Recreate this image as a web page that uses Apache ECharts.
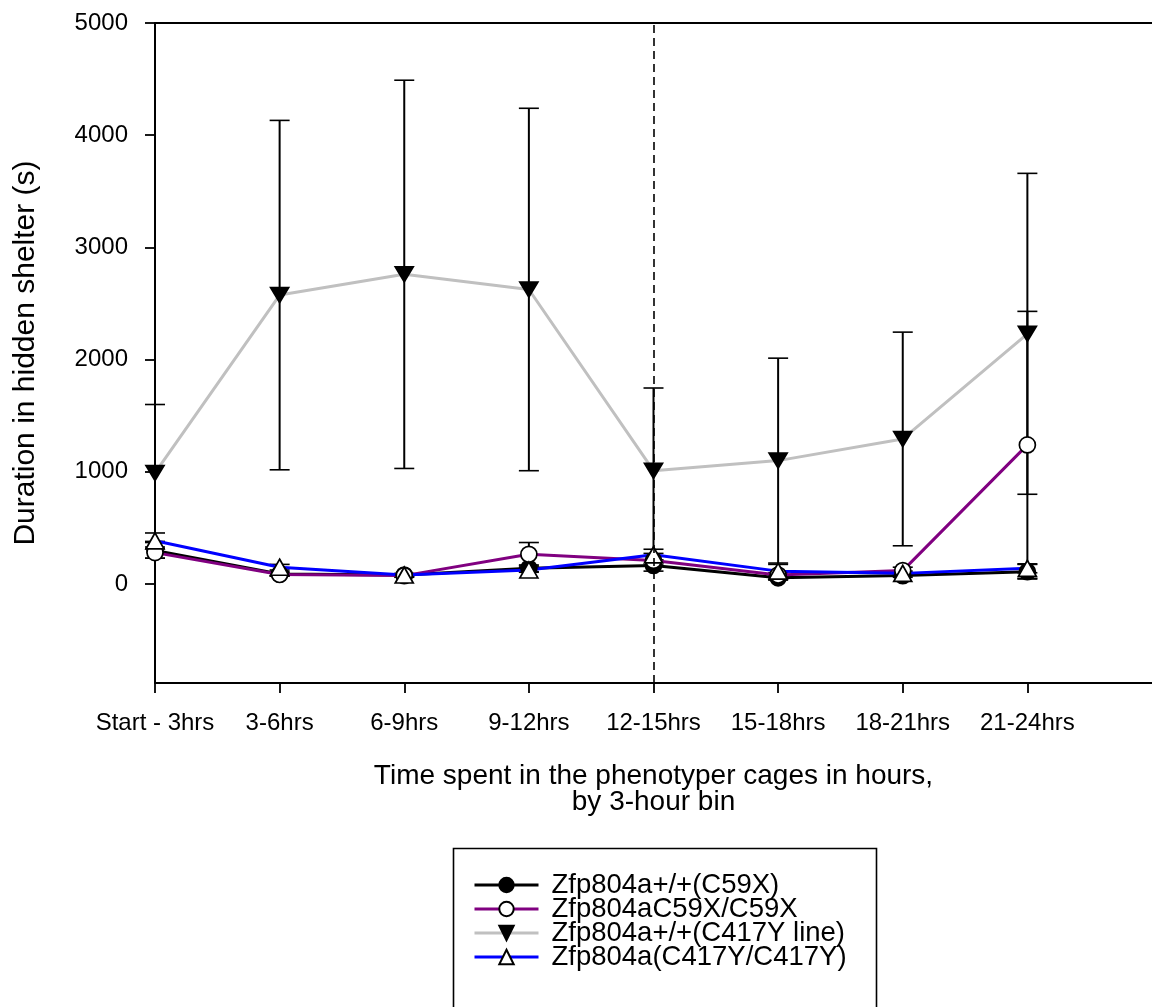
<!DOCTYPE html>
<html>
<head>
<meta charset="utf-8">
<title>Duration in hidden shelter</title>
<script src="https://cdn.jsdelivr.net/npm/echarts@6/dist/echarts.min.js"></script>
<style>
  html, body { margin: 0; padding: 0; background: #fff; }
  #chart { width: 1152px; height: 1007px; }
</style>
</head>
<body>
<div id="chart"></div>
<script>
// 3-hour bins
const categories = ['Start - 3hrs', '3-6hrs', '6-9hrs', '9-12hrs', '12-15hrs', '15-18hrs', '18-21hrs', '21-24hrs'];
const yTicks = [0, 1000, 2000, 3000, 4000, 5000];

const seriesNames = ['Zfp804a+/+(C59X)', 'Zfp804aC59X/C59X', 'Zfp804a+/+(C417Y line)', 'Zfp804a(C417Y/C417Y)'];

// mean duration (s) per bin
const wtC59X = [300, 90, 80, 140, 165, 55, 75, 110];
const homC59X = [280, 85, 75, 265, 210, 80, 120, 1240];
const wtC417Y = [990, 2575, 2760, 2625, 1010, 1100, 1293, 2230];
const homC417Y = [385, 150, 80, 125, 260, 115, 95, 140];

// SEM per bin
const wtC59XSem = [70, 20, 15, 30, 50, 20, 15, 65];
const homC59XSem = [50, 15, 15, 105, 40, 20, 30, 1190];
const wtC417YSem = [610, 1557, 1730, 1615, 737, 913, 952, 1430];
const homC417YSem = [70, 25, 10, 20, 50, 60, 20, 40];

const FONT = '"Liberation Sans", Arial, sans-serif';

function errData(means, sems) {
  return means.map((m, i) => [i, m - sems[i], m + sems[i]]);
}

function renderErr(params, api) {
  const x = api.value(0);
  const top = api.coord([x, api.value(2)]);
  const bot = api.coord([x, api.value(1)]);
  const hw = 10;
  const stem = { stroke: '#000', lineWidth: 2, fill: null };
  const cap = { stroke: '#000', lineWidth: 1.6, fill: null };
  return {
    type: 'group',
    children: [
      { type: 'line', shape: { x1: top[0], y1: top[1], x2: bot[0], y2: bot[1] }, style: stem },
      { type: 'line', shape: { x1: top[0] - hw, y1: top[1], x2: top[0] + hw, y2: top[1] }, style: cap },
      { type: 'line', shape: { x1: bot[0] - hw, y1: bot[1], x2: bot[0] + hw, y2: bot[1] }, style: cap }
    ]
  };
}

function errSeries(means, sems) {
  return {
    type: 'custom',
    renderItem: renderErr,
    data: errData(means, sems),
    encode: { x: 0, y: [1, 2] },
    silent: true,
    z: 2
  };
}

function lineSeries(name, values, color, symbol, size, fill) {
  return {
    name: name,
    type: 'line',
    data: values.map((v, i) => [i, v]),
    symbol: symbol,
    symbolSize: size,
    showAllSymbol: true,
    lineStyle: { color: color, width: 3 },
    itemStyle: { color: fill, borderColor: '#000', borderWidth: 1.7 },
    emphasis: { disabled: true },
    z: 3
  };
}

// downward-pointing filled triangle
const triDown = 'path://M0,0 L18,0 L9,15 Z';

const chart = echarts.init(document.getElementById('chart'), null, { renderer: 'canvas' });

const option = {
  animation: false,
  backgroundColor: '#fff',
  textStyle: { fontFamily: FONT },
  grid: { left: 155, right: 0, top: 23, bottom: 324, containLabel: false },
  xAxis: [
    {
      type: 'value',
      min: 0,
      max: 8,
      position: 'bottom',
      name: 'Time spent in the phenotyper cages in hours,\nby 3-hour bin',
      nameLocation: 'middle',
      nameGap: 80,
      nameTextStyle: { fontSize: 28, color: '#000', fontFamily: FONT, lineHeight: 26 },
      axisLine: { show: true, onZero: false, lineStyle: { color: '#000', width: 1.8 } },
      axisTick: { show: true, inside: false, length: 10, customValues: [0, 1, 2, 3, 4, 5, 6, 7], lineStyle: { color: '#000', width: 1.8 } },
      axisLabel: {
        show: true,
        margin: 28,
        fontSize: 24,
        color: '#000',
        fontFamily: FONT,
        customValues: [0, 1, 2, 3, 4, 5, 6, 7],
        formatter: v => categories[Math.round(v)] || ''
      },
      splitLine: { show: false }
    },
    {
      type: 'value',
      min: 0,
      max: 8,
      position: 'top',
      axisLine: { show: true, onZero: false, lineStyle: { color: '#000', width: 1.8 } },
      axisTick: { show: false },
      axisLabel: { show: false },
      splitLine: { show: false }
    }
  ],
  yAxis: {
    type: 'value',
    min: -882,
    max: 5000,
    name: 'Duration in hidden shelter (s)',
    nameLocation: 'middle',
    nameGap: 114,
    nameTextStyle: { fontSize: 30, color: '#000', fontFamily: FONT },
    axisLine: { show: true, onZero: false, lineStyle: { color: '#000', width: 2 } },
    axisTick: { show: true, inside: false, length: 10, customValues: yTicks, lineStyle: { color: '#000', width: 1.8 } },
    axisLabel: {
      show: true,
      margin: 27,
      fontSize: 24,
      color: '#000',
      fontFamily: FONT,
      customValues: yTicks,
      formatter: v => String(v)
    },
    splitLine: { show: false }
  },
  legend: {
    orient: 'vertical',
    left: 473,
    top: 871,
    itemWidth: 64,
    itemHeight: 18,
    itemGap: -4,
    padding: 0,
    data: seriesNames,
    selectedMode: false,
    lineStyle: { width: 3 },
    textStyle: { fontSize: 27.5, color: '#000', fontFamily: FONT, lineHeight: 22, padding: [0, 0, 0, 8] }
  },
  graphic: [
    {
      type: 'rect',
      shape: { x: 453.5, y: 848.5, width: 423, height: 200 },
      style: { fill: null, stroke: '#000', lineWidth: 1.6 },
      z: 1
    }
  ],
  series: [
    Object.assign(errSeries(wtC417Y, wtC417YSem), {
      markLine: {
        silent: true,
        symbol: 'none',
        label: { show: false },
        lineStyle: { color: '#000', type: [8, 5], width: 1.6 },
        data: [{ xAxis: 4 }]
      }
    }),
    errSeries(wtC59X, wtC59XSem),
    errSeries(homC59X, homC59XSem),
    errSeries(homC417Y, homC417YSem),
    lineSeries(seriesNames[2], wtC417Y, '#c0c0c0', triDown, [18, 15], '#000'),
    lineSeries(seriesNames[0], wtC59X, '#000000', 'circle', 16, '#000'),
    lineSeries(seriesNames[1], homC59X, '#800080', 'circle', 16, '#fff'),
    lineSeries(seriesNames[3], homC417Y, '#0000ff', 'triangle', [18, 16], '#fff')
  ]
};

chart.setOption(option);
</script>
</body>
</html>
